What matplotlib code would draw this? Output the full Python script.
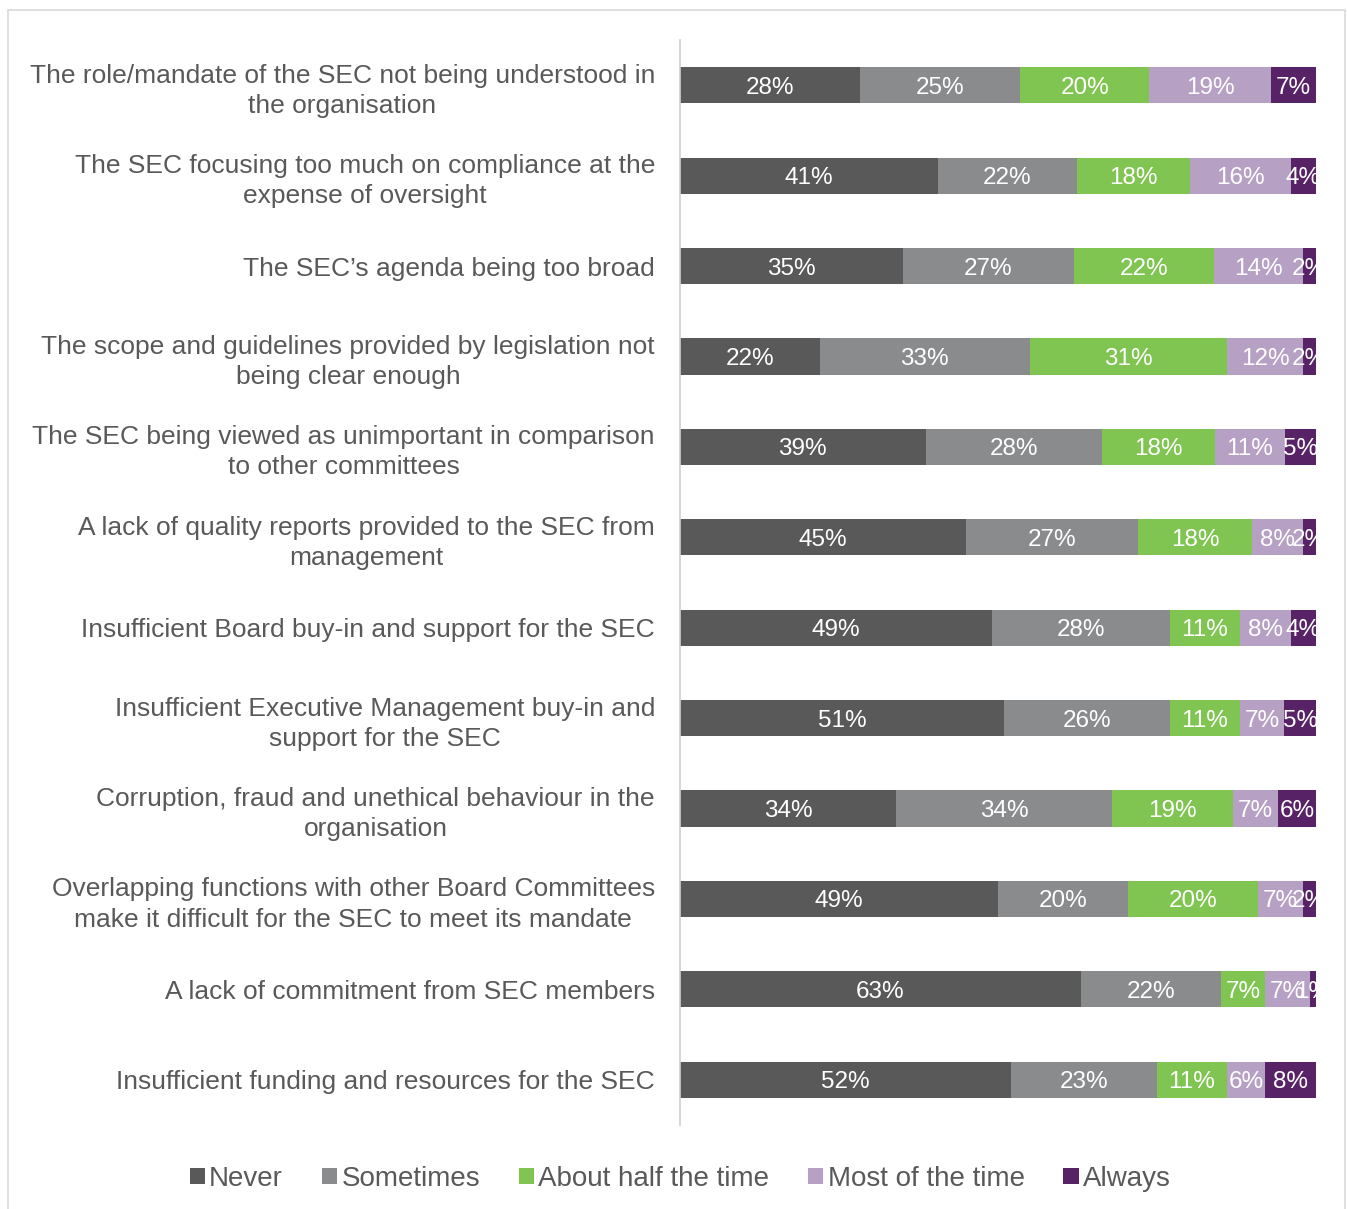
import numpy as np
import matplotlib.pyplot as plt
from matplotlib.patches import Rectangle

plt.rcParams['font.family'] = ['Liberation Sans', 'DejaVu Sans']

categories = [
    "The role/mandate of the SEC not being understood in\nthe organisation",
    "The SEC focusing too much on compliance at the\nexpense of oversight",
    "The SEC\u2019s agenda being too broad",
    "The scope and guidelines provided by legislation not\nbeing clear enough",
    "The SEC being viewed as unimportant in comparison\nto other committees",
    "A lack of quality reports provided to the SEC from\nmanagement",
    "Insufficient Board buy-in and support for the SEC",
    "Insufficient Executive Management buy-in and\nsupport for the SEC",
    "Corruption, fraud and unethical behaviour in the\norganisation",
    "Overlapping functions with other Board Committees\nmake it difficult for the SEC to meet its mandate",
    "A lack of commitment from SEC members",
    "Insufficient funding and resources for the SEC",
]

never = [28, 41, 35, 22, 39, 45, 49, 51, 34, 49, 63, 52]
sometimes = [25, 22, 27, 33, 28, 27, 28, 26, 34, 20, 22, 23]
half_time = [20, 18, 22, 31, 18, 18, 11, 11, 19, 20, 7, 11]
most_time = [19, 16, 14, 12, 11, 8, 8, 7, 7, 7, 7, 6]
always = [7, 4, 2, 2, 5, 2, 4, 5, 6, 2, 1, 8]

series_names = ["Never", "Sometimes", "About half the time", "Most of the time", "Always"]
colors = ["#595959", "#898b8d", "#80c451", "#b6a1c5", "#572366"]

data = np.array([never, sometimes, half_time, most_time, always], dtype=float)
# 100% stacked: each row scaled to its own total
shares = data / data.sum(axis=0) * 100

fig = plt.figure(figsize=(13.47, 12.09), dpi=100)
ax = fig.add_axes([680 / 1347, 1 - 1125 / 1209, 636 / 1347, 1085 / 1209])

y = np.arange(len(categories))
left = np.zeros(len(categories))
for i, name in enumerate(series_names):
    bars = ax.barh(y, shares[i], left=left, height=0.4, color=colors[i],
                   label=name, edgecolor="none")
    for j, b in enumerate(bars):
        cx = b.get_x() + b.get_width() / 2
        ax.text(cx, y[j], f"{int(data[i][j])}%", ha="center", va="center_baseline",
                color="white", fontsize=17.5, clip_on=True)
    left += shares[i]

ax.set_xlim(0, 100)
ax.set_ylim(len(categories) - 0.5, -0.5)
ax.set_yticks(y)
ax.set_yticklabels(categories, fontsize=19, color="#595959",
                   multialignment="center", linespacing=1.32)
ax.tick_params(axis="y", length=0, pad=18)
ax.set_xticks([])
for s in ["top", "right", "bottom"]:
    ax.spines[s].set_visible(False)
ax.spines["left"].set_color("#d0d0d0")
ax.spines["left"].set_linewidth(1.2)

fig.legend(loc="center", bbox_to_anchor=(0.505, 0.025), ncol=5, frameon=False,
           fontsize=20, handlelength=0.55, handleheight=0.55, handletextpad=0.15,
           columnspacing=1.4, labelcolor="#595959")

fig.patches.append(Rectangle((8 / 1347, -0.01), 1337 / 1347, 1 - 10 / 1209 + 0.01,
                             transform=fig.transFigure, fill=False,
                             edgecolor="#d9d9d9", linewidth=1.2))

fig.savefig("out.png", dpi=100)
